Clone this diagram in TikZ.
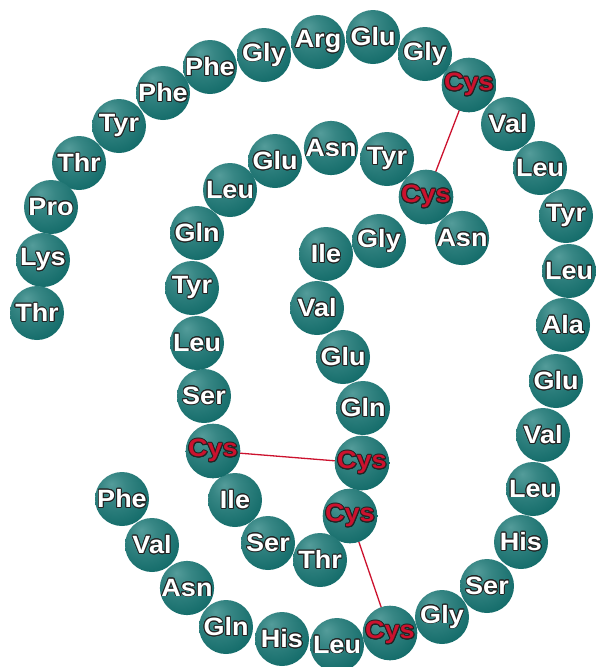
\documentclass[tikz,border=0pt]{standalone}
\usepackage{fontspec}
\setmainfont{Liberation Sans}
\usepackage{graphicx}
\usepackage[copies]{contour}
\contourlength{0.8pt}
\contournumber{16}

\definecolor{sphLight}{RGB}{84,156,154}
\definecolor{sphMid}{RGB}{20,108,106}
\definecolor{sphDark}{RGB}{6,58,62}
\definecolor{outl}{RGB}{35,35,35}
\definecolor{cysred}{RGB}{204,18,46}

% Shaded ball with a broad highlight up and to the left
\pgfdeclareradialshading{aminoball}{\pgfpoint{-10bp}{14bp}}{%
  color(0bp)=(sphLight);
  color(12bp)=(sphLight!55!sphMid);
  color(34bp)=(sphMid);
  color(60bp)=(sphDark);
  color(75bp)=(sphDark)}

\pgfdeclarelayer{background}
\pgfsetlayers{background,main}

% residue name: bold letters with a thin dark rim
\newcommand{\reslabel}[1]{\scalebox{1.08}[1]{\contour{outl}{#1}}}

\tikzset{
  res/.style={circle, minimum size=54pt, inner sep=0pt, shading=aminoball,
    text=white, font=\fontsize{25}{25}\selectfont\bfseries},
  cys/.style={res, text=cysred},
  bond/.style={draw=cysred, line width=1.3pt}
}

\begin{document}
\begin{tikzpicture}[x=1pt, y=-1pt]
\useasboundingbox (0,0) rectangle (596,667);

% B chain (30 residues), outer spiral
\node[res] (B1)  at (122,499) {\reslabel{Phe}};
\node[res] (B2)  at (152,545) {\reslabel{Val}};
\node[res] (B3)  at (187,588) {\reslabel{Asn}};
\node[res] (B4)  at (226,627) {\reslabel{Gln}};
\node[res] (B5)  at (282,639) {\reslabel{His}};
\node[res] (B6)  at (337,645) {\reslabel{Leu}};
\node[cys] (B7)  at (390,633) {\reslabel{Cys}};
\node[res] (B8)  at (442,617) {\reslabel{Gly}};
\node[res] (B9)  at (487,586) {\reslabel{Ser}};
\node[res] (B10) at (521,542) {\reslabel{His}};
\node[res] (B11) at (533,489) {\reslabel{Leu}};
\node[res] (B12) at (543,435) {\reslabel{Val}};
\node[res] (B13) at (556,381) {\reslabel{Glu}};
\node[res] (B14) at (563,325) {\reslabel{Ala}};
\node[res] (B15) at (569,271) {\reslabel{Leu}};
\node[res] (B16) at (566,216) {\reslabel{Tyr}};
\node[res] (B17) at (540,168) {\reslabel{Leu}};
\node[res] (B18) at (508,124) {\reslabel{Val}};
\node[cys] (B19) at (469,85)  {\reslabel{Cys}};
\node[res] (B20) at (425,54)  {\reslabel{Gly}};
\node[res] (B21) at (373,37)  {\reslabel{Glu}};
\node[res] (B22) at (318,42)  {\reslabel{Arg}};
\node[res] (B23) at (264,55)  {\reslabel{Gly}};
\node[res] (B24) at (210,67)  {\reslabel{Phe}};
\node[res] (B25) at (163,93)  {\reslabel{Phe}};
\node[res] (B26) at (119,126) {\reslabel{Tyr}};
\node[res] (B27) at (79,163)  {\reslabel{Thr}};
\node[res] (B28) at (51,207)  {\reslabel{Pro}};
\node[res] (B29) at (43,260)  {\reslabel{Lys}};
\node[res] (B30) at (37,313)  {\reslabel{Thr}};

% A chain (21 residues), inner loop
\node[res] (A1)  at (379,241) {\reslabel{Gly}};
\node[res] (A2)  at (326,254) {\reslabel{Ile}};
\node[res] (A3)  at (317,308) {\reslabel{Val}};
\node[res] (A4)  at (343,357) {\reslabel{Glu}};
\node[res] (A5)  at (363,408) {\reslabel{Gln}};
\node[cys] (A6)  at (362,463) {\reslabel{Cys}};
\node[cys] (A7)  at (350,516) {\reslabel{Cys}};
\node[res] (A8)  at (320,560) {\reslabel{Thr}};
\node[res] (A9)  at (268,543) {\reslabel{Ser}};
\node[res] (A10) at (235,500) {\reslabel{Ile}};
\node[cys] (A11) at (213,451) {\reslabel{Cys}};
\node[res] (A12) at (204,396) {\reslabel{Ser}};
\node[res] (A13) at (197,343) {\reslabel{Leu}};
\node[res] (A14) at (192,288) {\reslabel{Tyr}};
\node[res] (A15) at (197,233) {\reslabel{Gln}};
\node[res] (A16) at (230,190) {\reslabel{Leu}};
\node[res] (A17) at (275,161) {\reslabel{Glu}};
\node[res] (A18) at (331,148) {\reslabel{Asn}};
\node[res] (A19) at (387,159) {\reslabel{Tyr}};
\node[cys] (A20) at (426,197) {\reslabel{Cys}};
\node[res] (A21) at (462,238) {\reslabel{Asn}};

% Disulfide bridges, behind the balls
\begin{pgfonlayer}{background}
  \draw[bond] (B19.center) -- (A20.center);
  \draw[bond] (A11.center) -- (A6.center);
  \draw[bond] (A7.center) -- (B7.center);
\end{pgfonlayer}
\end{tikzpicture}
\end{document}
